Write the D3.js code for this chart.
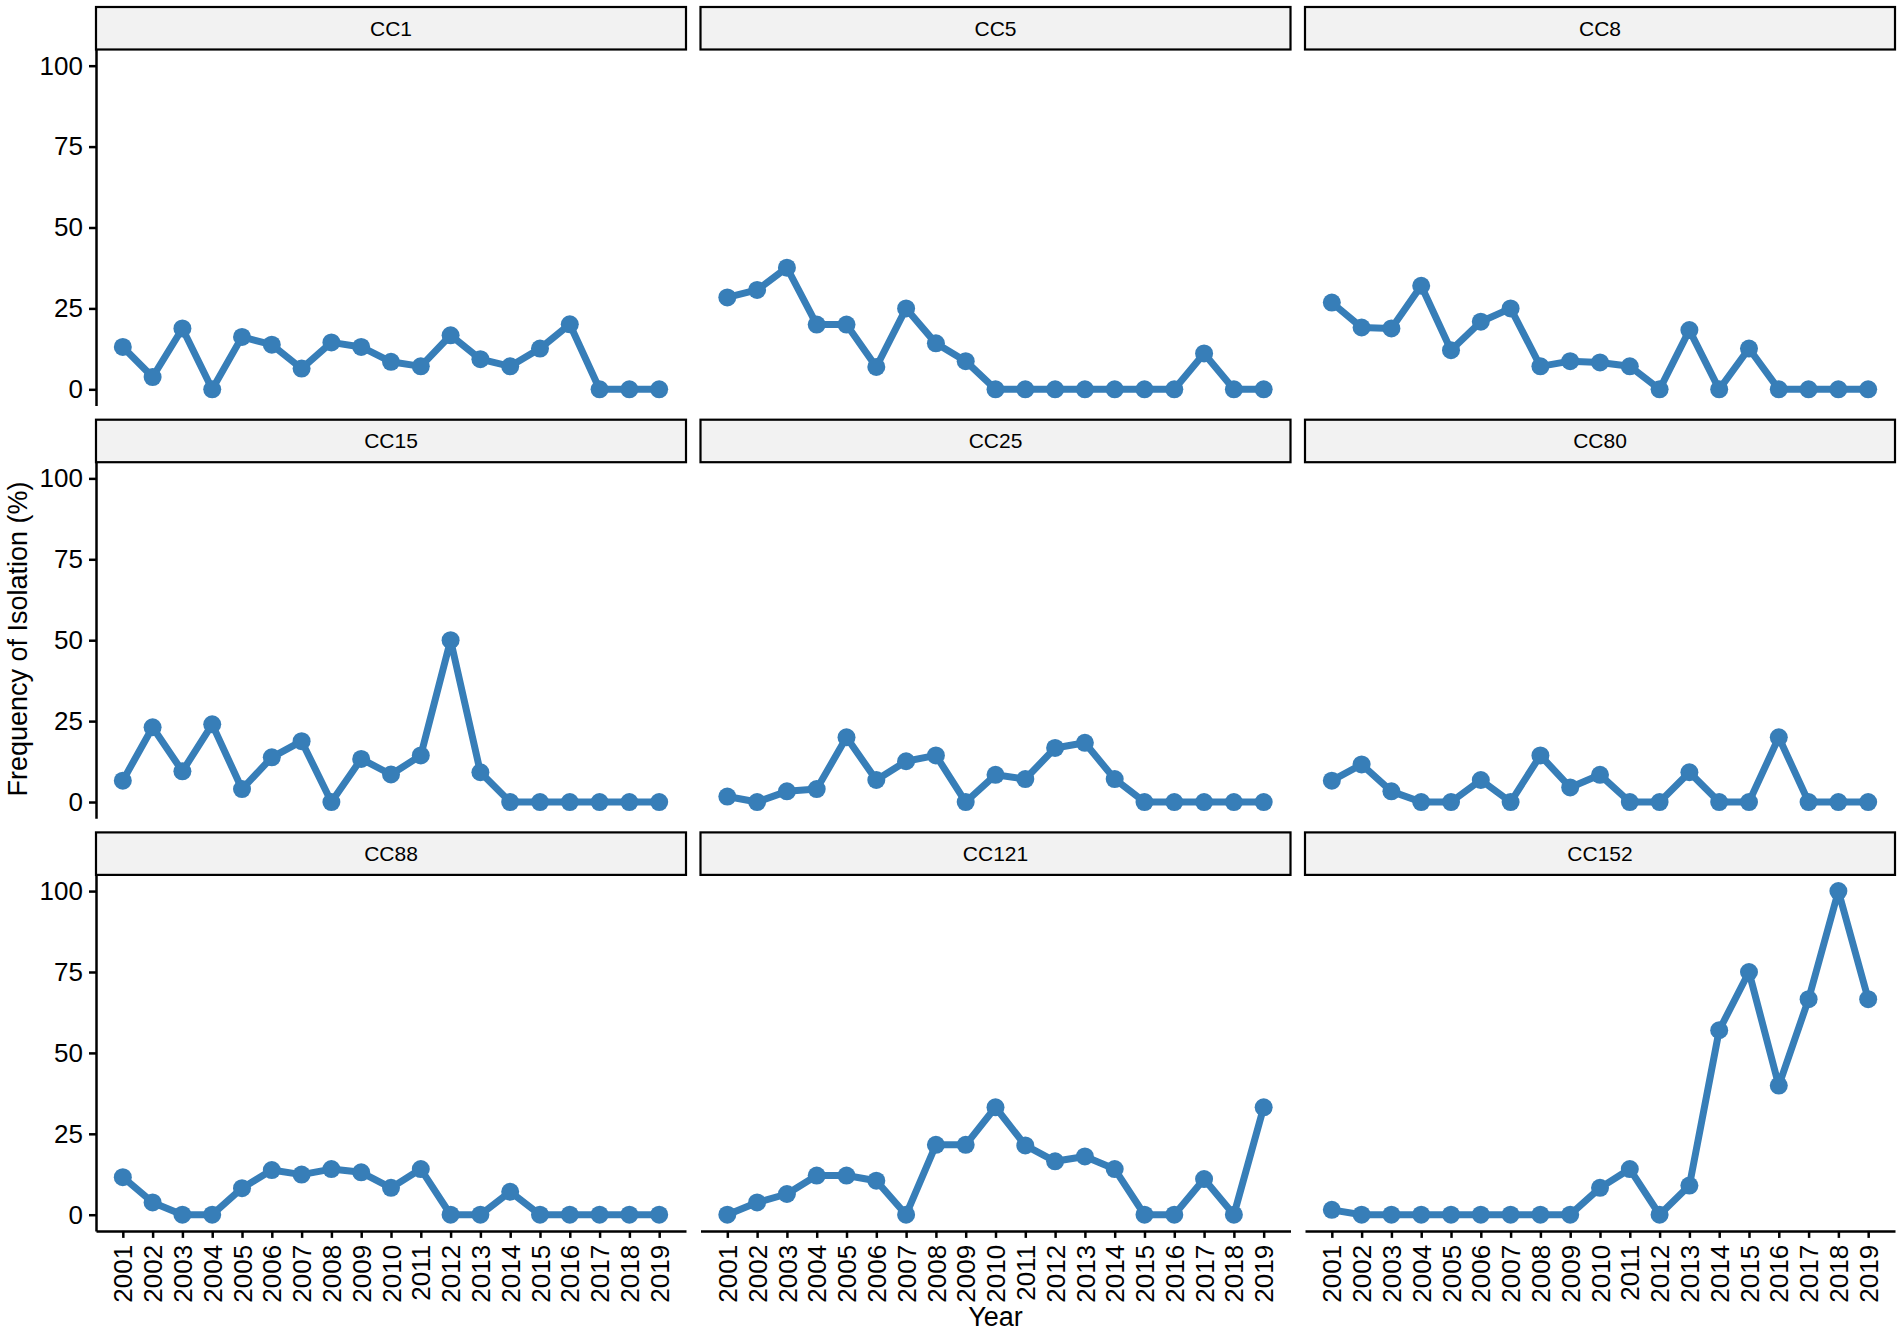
<!DOCTYPE html>
<html>
<head>
<meta charset="utf-8">
<script src="https://cdn.jsdelivr.net/npm/d3@7"></script>
<style>
  body { margin: 0; background: #fff; }
  text { font-family: "Liberation Sans", Arial, Helvetica, sans-serif; fill: #000; }
</style>
</head>
<body>
<svg id="main-svg"></svg>
<script>
// data
let years = [2001, 2002, 2003, 2004, 2005, 2006, 2007, 2008, 2009, 2010,
             2011, 2012, 2013, 2014, 2015, 2016, 2017, 2018, 2019];
let clonalComplexes = ['CC1', 'CC5', 'CC8', 'CC15', 'CC25', 'CC80', 'CC88', 'CC121', 'CC152'];
let yTicks = [0, 25, 50, 75, 100];

let cc1   = [13.1, 3.8, 18.8, 0, 16.2, 13.8, 6.4, 14.5, 13.1, 8.5, 7.1, 16.7, 9.3, 7.1, 12.6, 20.1, 0, 0, 0];
let cc5   = [28.4, 30.7, 37.6, 20.0, 20.0, 6.9, 25.0, 14.2, 8.7, 0, 0, 0, 0, 0, 0, 0, 11.1, 0, 0];
let cc8   = [26.8, 19.1, 18.8, 32.0, 12.1, 20.9, 25.0, 7.1, 8.7, 8.3, 7.1, 0, 18.3, 0, 12.6, 0, 0, 0, 0];
let cc15  = [6.6, 23.1, 9.5, 24.0, 4.0, 13.8, 18.8, 0, 13.3, 8.5, 14.4, 50.0, 9.2, 0, 0, 0, 0, 0, 0];
let cc25  = [1.7, 0, 3.3, 4.0, 20.0, 6.8, 12.6, 14.4, 0, 8.4, 7.1, 16.7, 18.3, 7.1, 0, 0, 0, 0, 0];
let cc80  = [6.6, 11.6, 3.3, 0, 0, 6.8, 0, 14.4, 4.5, 8.4, 0, 0, 9.2, 0, 0, 20.0, 0, 0, 0];
let cc88  = [11.6, 3.8, 0, 0, 8.2, 13.8, 12.4, 14.1, 13.1, 8.3, 14.1, 0, 0, 7.1, 0, 0, 0, 0, 0];
let cc121 = [0, 3.8, 6.4, 12.1, 12.1, 10.5, 0, 21.6, 21.6, 33.2, 21.4, 16.5, 18.0, 14.1, 0, 0, 11.0, 0, 33.2];
let cc152 = [1.5, 0, 0, 0, 0, 0, 0, 0, 0, 8.3, 14.1, 0, 9.0, 57.0, 75.0, 39.9, 66.6, 100, 66.6];

let seriesValues = [cc1, cc5, cc8, cc15, cc25, cc80, cc88, cc121, cc152];

let width = 1902;
let height = 1336;
let nCols = 3;
let panelLeft = 96;
let panelTop = 7;
let panelW = 590;
let colPitch = 604.5;
let stripH = 42.5;
let plotH = 356;
let rowPitch = 412.7;
let lineColor = '#377EB8';

let svg = d3.select('#main-svg')
  .attr('width', width)
  .attr('height', height);

let x = d3.scaleLinear()
  .domain([years[0] - 0.9, years[years.length - 1] + 0.9])
  .range([0, panelW]);

let y = d3.scaleLinear()
  .domain([-5, 105])
  .range([plotH, 0]);

let line = d3.line()
  .x((d, i) => x(years[i]))
  .y(d => y(d));

clonalComplexes.forEach((name, k) => {
  let col = k % nCols;
  let row = Math.floor(k / nCols);
  let nRows = Math.ceil(clonalComplexes.length / nCols);
  let g = svg.append('g')
    .attr('transform', `translate(${panelLeft + col * colPitch} ${panelTop + row * rowPitch})`);

  // strip
  g.append('rect')
    .attr('x', 0).attr('y', 0)
    .attr('width', panelW).attr('height', stripH)
    .style('fill', '#F2F2F2')
    .style('stroke', '#000')
    .style('stroke-width', 2.2);
  g.append('text')
    .attr('x', panelW / 2)
    .attr('y', stripH / 2)
    .attr('dy', '0.36em')
    .attr('text-anchor', 'middle')
    .style('font-size', '21px')
    .text(name);

  let plot = g.append('g').attr('transform', `translate(0 ${stripH})`);

  if (col === 0) {
    let yAxis = plot.append('g')
      .call(d3.axisLeft(y).tickValues(yTicks).tickSize(7).tickSizeOuter(0).tickPadding(6));
    yAxis.selectAll('line, path').style('stroke', '#000').style('stroke-width', 2.5);
    yAxis.selectAll('text').style('font-size', '26px').style('font-family', null);
  }

  if (row === nRows - 1) {
    let xAxis = plot.append('g')
      .attr('transform', `translate(0 ${plotH})`)
      .call(d3.axisBottom(x).tickValues(years).tickFormat(d3.format('d')).tickSize(7).tickSizeOuter(0));
    xAxis.selectAll('line, path').style('stroke', '#000').style('stroke-width', 2.5);
    xAxis.selectAll('text')
      .style('font-size', '26px')
      .style('font-family', null)
      .attr('transform', 'rotate(-90)')
      .attr('text-anchor', 'end')
      .attr('x', -14)
      .attr('y', 0)
      .attr('dy', '0.35em');
  }

  let values = seriesValues[k];
  plot.append('path')
    .datum(values)
    .attr('d', line)
    .style('fill', 'none')
    .style('stroke', lineColor)
    .style('stroke-width', 7)
    .style('stroke-linejoin', 'round');

  plot.selectAll('circle')
    .data(values)
    .enter().append('circle')
      .attr('cx', (d, i) => x(years[i]))
      .attr('cy', d => y(d))
      .attr('r', 9)
      .style('fill', lineColor);
});

// axis titles
svg.append('text')
  .attr('transform', 'translate(27 639) rotate(-90)')
  .attr('text-anchor', 'middle')
  .style('font-size', '27px')
  .text('Frequency of Isolation (%)');

svg.append('text')
  .attr('x', panelLeft + colPitch + panelW / 2)
  .attr('y', 1326)
  .attr('text-anchor', 'middle')
  .style('font-size', '27px')
  .text('Year');
</script>
</body>
</html>
